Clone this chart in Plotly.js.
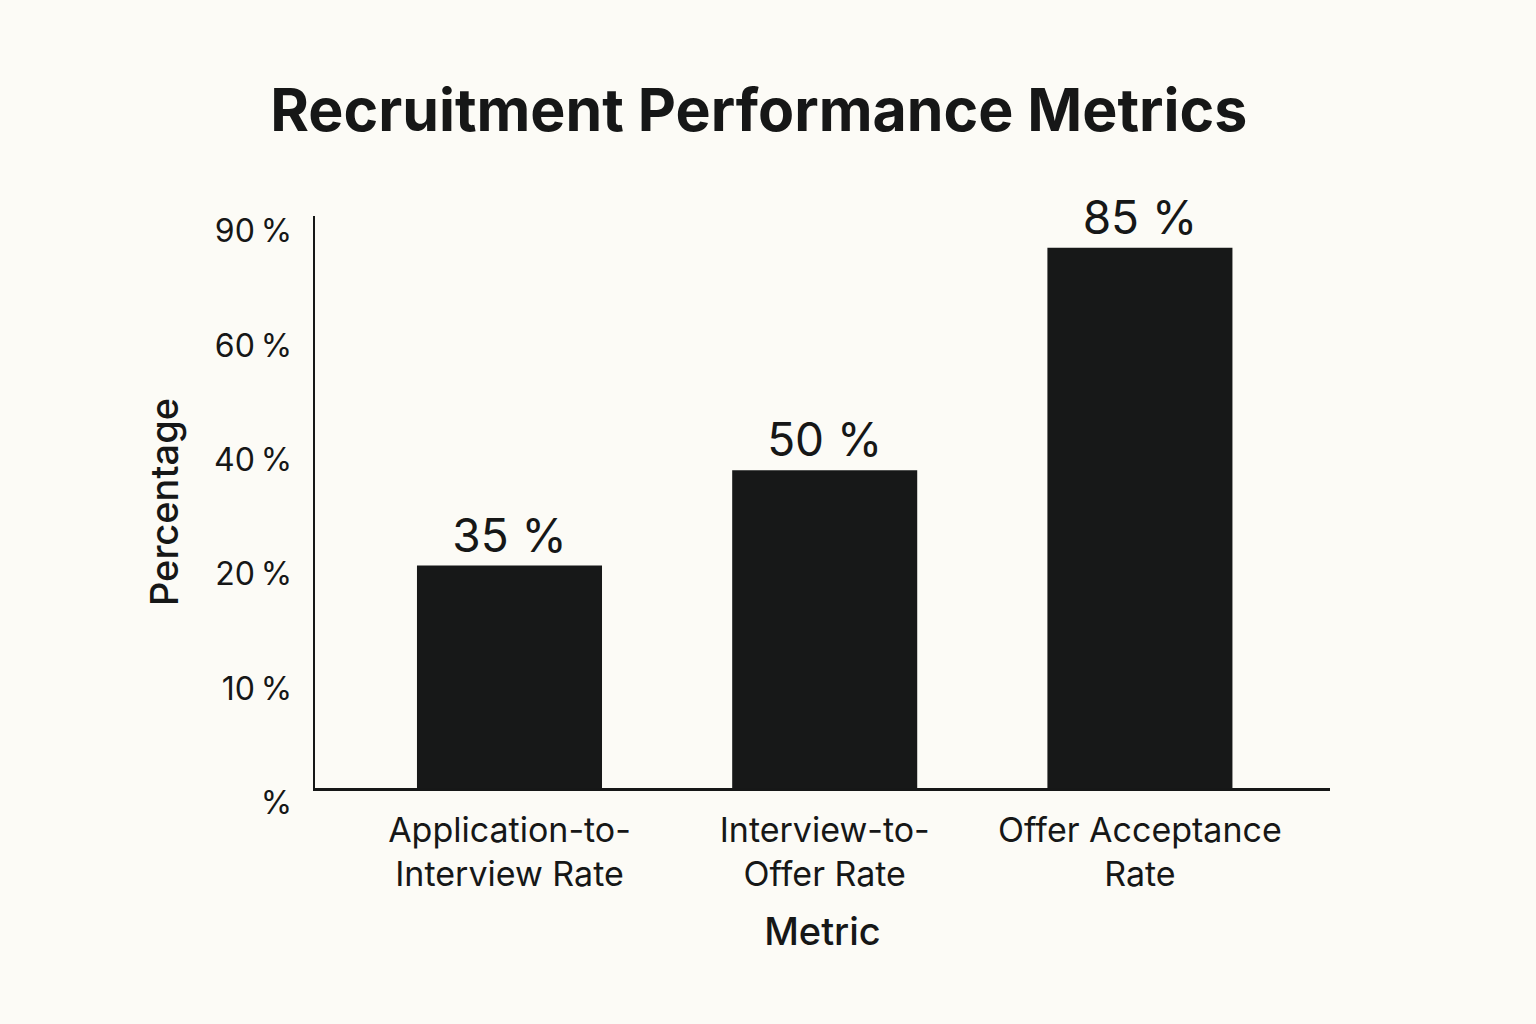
<!DOCTYPE html>
<html>
<head>
<meta charset="utf-8">
<script src="https://cdn.plot.ly/plotly-3.0.1.min.js"></script>
<style>
html,body{margin:0;padding:0;background:#fcfbf6;}
#chart{width:1536px;height:1024px;}
</style>
</head>
<body>
<div id="chart"></div>
<script>
const categories = ["Application-to-<br>Interview Rate", "Interview-to-<br>Offer Rate", "Offer Acceptance<br>Rate"];
const values = [35, 50, 85];
const valueLabels = ["35 %", "50 %", "85 %"];
const yTickVals = [0, 18, 36, 54, 72, 90];
const yTickText = ["%", "10\u2009%", "20\u2009%", "40\u2009%", "60\u2009%", "90\u2009%"];

const ink = "#161717";
const font = "Inter, 'Noto Sans', 'DejaVu Sans', sans-serif";

const trace = {
  type: "bar",
  x: [0, 1, 2],
  y: values,
  text: valueLabels,
  textposition: "outside",
  cliponaxis: false,
  textfont: {family: font, size: 46, color: ink},
  marker: {color: "#171818", line: {width: 0}},
  width: 0.587,
  hoverinfo: "none"
};

const layout = {
  width: 1536,
  height: 1024,
  paper_bgcolor: "#fcfbf6",
  plot_bgcolor: "#fcfbf6",
  margin: {l: 315, r: 206, t: 216, b: 236},
  showlegend: false,
  title: {
    text: "<b>Recruitment Performance Metrics</b>",
    font: {family: font, size: 59, color: ink},
    x: 0.494, xanchor: "center",
    y: 0.892, yanchor: "middle"
  },
  xaxis: {
    range: [-0.617, 2.603],
    tickvals: [0, 1, 2],
    ticktext: categories,
    showline: true, linecolor: ink, linewidth: 3,
    showgrid: false, zeroline: false,
    ticks: "",
    ticklabelstandoff: 10,
    tickfont: {family: font, size: 34, color: ink},
    title: {text: "Metric", font: {family: font, size: 38, color: ink, weight: 500}, standoff: 26}
  },
  yaxis: {
    range: [0, 90],
    tickvals: yTickVals,
    ticktext: yTickText,
    showline: true, linecolor: ink, linewidth: 2.5,
    showgrid: false, zeroline: false,
    ticks: "",
    ticklabelshift: 15,
    ticklabelstandoff: 14,
    tickfont: {family: font, size: 32, color: ink},
    title: {text: "Percentage", font: {family: font, size: 38, color: ink, weight: 500}, standoff: 24}
  }
};

Plotly.newPlot("chart", [trace], layout, {displayModeBar: false, staticPlot: true});
</script>
</body>
</html>
